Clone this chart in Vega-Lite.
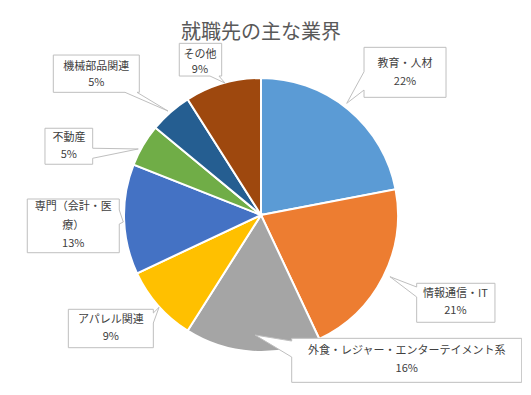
{
  "$schema": "https://vega.github.io/schema/vega-lite/v6.json",
  "autosize": {"type": "none"},
  "padding": {"left": 0, "top": 40, "right": 0, "bottom": 0},
  "width": 522,
  "height": 350,
  "background": "white",
  "title": {"text": "就職先の主な業界", "fontSize": 20, "font": "Noto Sans CJK JP", "fontWeight": "normal", "color": "#595959", "anchor": "middle", "offset": 0, "dy": 3},
  "config": {"view": {"stroke": null}},
  "data": {"values": [
    {"name": "教育・人材", "pct": 22},
    {"name": "情報通信・IT", "pct": 21},
    {"name": "外食・レジャー・エンターテイメント系", "pct": 16},
    {"name": "アパレル関連", "pct": 9},
    {"name": "専門（会計・医療）", "pct": 13},
    {"name": "不動産", "pct": 5},
    {"name": "機械部品関連", "pct": 5},
    {"name": "その他", "pct": 9}
  ]},
  "transform": [
    {"window": [{"op": "row_number", "as": "idx"}]},
    {"joinaggregate": [{"op": "sum", "field": "pct", "as": "total"}]},
    {"window": [{"op": "sum", "field": "pct", "as": "cum"}], "sort": [{"field": "idx"}], "frame": [null, 0]},
    {"calculate": "2*PI*(datum.cum - datum.pct/2)/datum.total", "as": "ang"},
    {"calculate": "sin(datum.ang)", "as": "sx"},
    {"calculate": "cos(datum.ang)", "as": "sy"},
    {"calculate": "datum.name + '\\n' + datum.pct + '%'", "as": "lbl"},
    {"calculate": "slice(datum.name, 0, 7) + '\\n' + slice(datum.name, 7) + '\\n' + datum.pct + '%'", "as": "lbl3"}
  ],
  "layer": [
    {
      "mark": {"type": "arc", "outerRadius": 137, "stroke": "white", "strokeWidth": 2},
      "encoding": {
        "theta": {"field": "pct", "type": "quantitative", "stack": true},
        "order": {"field": "idx", "type": "quantitative"},
        "color": {"field": "name", "type": "nominal", "legend": null,
          "scale": {"domain": ["教育・人材", "情報通信・IT", "外食・レジャー・エンターテイメント系", "アパレル関連", "専門（会計・医療）", "不動産", "機械部品関連", "その他"],
                    "range": ["#5B9BD5", "#ED7D31", "#A5A5A5", "#FFC000", "#4472C4", "#70AD47", "#255E91", "#9E480E"]}}
      }
    },
    {
      "encoding": {
        "x": {"field": "sx", "type": "quantitative", "axis": null, "scale": {"domain": [-1, 1], "range": [124, 398], "zero": false, "nice": false}},
        "y": {"field": "sy", "type": "quantitative", "axis": null, "scale": {"domain": [-1, 1], "range": [312, 38], "zero": false, "nice": false}}
      },
      "layer": [
        {"transform": [{"filter": "datum.idx == 1"}], "layer": [
          {"mark": {"type": "point", "shape": "M15.7,-62.1L97.7,-62.1L97.7,-12.1L15.7,-12.1L15.7,-19.4L-1.6,-6.1L15.7,-37.7Z", "size": 4, "filled": true, "fill": "white", "stroke": "#bfbfbf", "strokeWidth": 1, "opacity": 1}, "encoding": {}},
          {"mark": {"type": "text", "dx": 56.7, "dy": -45.4, "lineBreak": "\n", "lineHeight": 17.5, "font": "Noto Sans CJK JP", "fontSize": 11, "color": "#404040", "align": "center", "baseline": "middle"}, "encoding": {"text": {"field": "lbl"}}}
        ]},
        {"transform": [{"filter": "datum.idx == 2"}], "layer": [
          {"mark": {"type": "point", "shape": "M33.6,6.1L111.9,6.1L111.9,45.1L33.6,45.1L33.6,19.8L6.9,-0.5L33.6,9.8Z", "size": 4, "filled": true, "fill": "white", "stroke": "#bfbfbf", "strokeWidth": 1, "opacity": 1}, "encoding": {}},
          {"mark": {"type": "text", "dx": 72.3, "dy": 17.1, "lineBreak": "\n", "lineHeight": 17, "font": "Noto Sans CJK JP", "fontSize": 11, "color": "#404040", "align": "center", "baseline": "middle"}, "encoding": {"text": {"field": "lbl"}}}
        ]},
        {"transform": [{"filter": "datum.idx == 3"}], "layer": [
          {"mark": {"type": "point", "shape": "M39.3,-13.4L269.3,-13.4L269.3,30.6L39.3,30.6L39.3,5.3L2.6,-16.7L39.3,-10.7Z", "size": 4, "filled": true, "fill": "white", "stroke": "#bfbfbf", "strokeWidth": 1, "opacity": 1}, "encoding": {}},
          {"mark": {"type": "text", "dx": 154.3, "dy": -0.4, "lineBreak": "\n", "lineHeight": 18, "font": "Noto Sans CJK JP", "fontSize": 11, "color": "#404040", "align": "center", "baseline": "middle"}, "encoding": {"text": {"field": "lbl"}}}
        ]},
        {"transform": [{"filter": "datum.idx == 4"}], "layer": [
          {"mark": {"type": "point", "shape": "M-89.9,3.7L-4.9,3.7L-4.9,7.4L0.8,1.7L-4.9,17.4L-4.9,42.1L-89.9,42.1Z", "size": 4, "filled": true, "fill": "white", "stroke": "#bfbfbf", "strokeWidth": 1, "opacity": 1}, "encoding": {}},
          {"mark": {"type": "text", "dx": -47.4, "dy": 14.4, "lineBreak": "\n", "lineHeight": 17, "font": "Noto Sans CJK JP", "fontSize": 11, "color": "#404040", "align": "center", "baseline": "middle"}, "encoding": {"text": {"field": "lbl"}}}
        ]},
        {"transform": [{"filter": "datum.idx == 5"}], "layer": [
          {"mark": {"type": "point", "shape": "M-96.8,-20.3L-4.8,-20.3L-4.8,-9.3L-0.8,2.7L-4.8,4.7L-4.8,33.4L-96.8,33.4Z", "size": 4, "filled": true, "fill": "white", "stroke": "#bfbfbf", "strokeWidth": 1, "opacity": 1}, "encoding": {}},
          {"mark": {"type": "text", "dx": -50.8, "dy": -12.1, "lineBreak": "\n", "lineHeight": 18.3, "font": "Noto Sans CJK JP", "fontSize": 11, "color": "#404040", "align": "center", "baseline": "middle"}, "encoding": {"text": {"field": "lbl3"}}}
        ]},
        {"transform": [{"filter": "datum.idx == 6"}], "layer": [
          {"mark": {"type": "point", "shape": "M-98.1,-17L-50.4,-17L-50.4,3L-4.8,3.7L-50.4,13L-50.4,19L-98.1,19Z", "size": 4, "filled": true, "fill": "white", "stroke": "#bfbfbf", "strokeWidth": 1, "opacity": 1}, "encoding": {}},
          {"mark": {"type": "text", "dx": -74.2, "dy": -7.2, "lineBreak": "\n", "lineHeight": 16.7, "font": "Noto Sans CJK JP", "fontSize": 11, "color": "#404040", "align": "center", "baseline": "middle"}, "encoding": {"text": {"field": "lbl"}}}
        ]},
        {"transform": [{"filter": "datum.idx == 7"}], "layer": [
          {"mark": {"type": "point", "shape": "M-117.1,-57.2L-31.1,-57.2L-31.1,-19.9L-33.4,-19.9L-2.4,-1.2L-45.4,-19.9L-117.1,-19.9Z", "size": 4, "filled": true, "fill": "white", "stroke": "#bfbfbf", "strokeWidth": 1, "opacity": 1}, "encoding": {}},
          {"mark": {"type": "text", "dx": -74.1, "dy": -44.9, "lineBreak": "\n", "lineHeight": 16, "font": "Noto Sans CJK JP", "fontSize": 11, "color": "#404040", "align": "center", "baseline": "middle"}, "encoding": {"text": {"field": "lbl"}}}
        ]},
        {"transform": [{"filter": "datum.idx == 8"}], "layer": [
          {"mark": {"type": "point", "shape": "M-43.5,-40.1L-1.1,-40.1L-1.1,-7.4L-3.8,-7.4L2.2,-0.4L-12.8,-7.4L-43.5,-7.4Z", "size": 4, "filled": true, "fill": "white", "stroke": "#bfbfbf", "strokeWidth": 1, "opacity": 1}, "encoding": {}},
          {"mark": {"type": "text", "dx": -22.8, "dy": -28.7, "lineBreak": "\n", "lineHeight": 15, "font": "Noto Sans CJK JP", "fontSize": 11, "color": "#404040", "align": "center", "baseline": "middle"}, "encoding": {"text": {"field": "lbl"}}}
        ]}
      ]
    }
  ]
}
